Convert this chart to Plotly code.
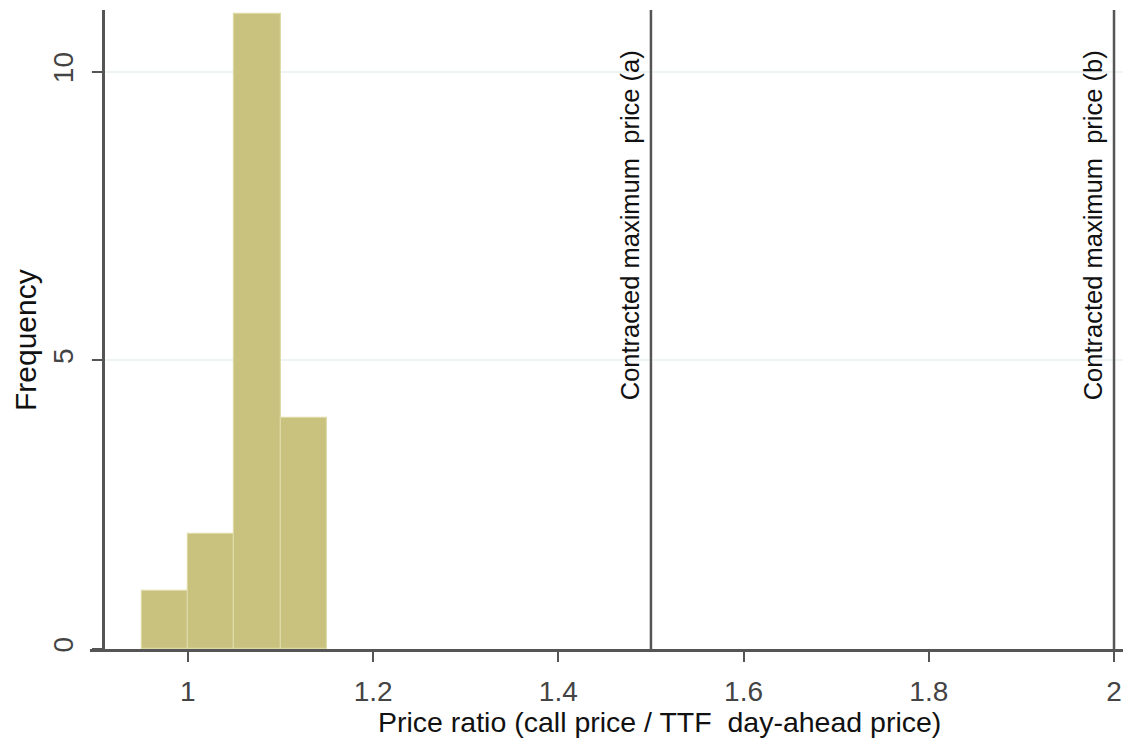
import plotly.graph_objects as go

# Data
bin_left = [0.95, 1.00, 1.05, 1.10]
bin_width = 0.05
counts = [1, 2, 11, 4]
ref_lines = [1.5, 2.0]
ref_labels = ["Contracted maximum  price (a)", "Contracted maximum  price (b)"]
x_ticks = [1, 1.2, 1.4, 1.6, 1.8, 2]
x_ticklabels = ["1", "1.2", "1.4", "1.6", "1.8", "2"]
y_ticks = [0, 5, 10]

FONT = "Liberation Sans, Arial, sans-serif"
W, H = 1123, 749
ML, MR, MT, MB = 90, 0, 10, 100

centers = [l + bin_width / 2 for l in bin_left]

fig = go.Figure()
fig.add_trace(go.Bar(
    x=centers, y=counts, width=[bin_width] * len(counts),
    marker=dict(color="#c8c27e", line=dict(color="#dedaa8", width=1.2)),
    showlegend=False, hoverinfo="skip",
))

for xv in ref_lines:
    fig.add_shape(type="line", xref="x", yref="paper", x0=xv, x1=xv, y0=0, y1=1,
                  line=dict(color="#555555", width=2.5), layer="above")

for xv, lab in zip(ref_lines, ref_labels):
    fig.add_annotation(x=xv, xref="x", y=0.940, yref="paper", text=lab,
                       textangle=-90, xanchor="right", yanchor="top", xshift=-5,
                       showarrow=False, font=dict(family=FONT, size=25.5, color="#111111"))

plot_w = W - ML - MR
fig.add_annotation(x=(659 - ML) / plot_w, xref="paper", y=-(722 - (H - MB)) / (H - MT - MB),
                   yref="paper", text="Price ratio (call price / TTF  day-ahead price)",
                   showarrow=False, xanchor="center", yanchor="middle",
                   font=dict(family=FONT, size=28.5, color="#111111"))
fig.add_annotation(x=-(ML - 25) / plot_w, xref="paper", y=(649 - 340) / (H - MT - MB),
                   yref="paper", text="Frequency", textangle=-90,
                   showarrow=False, xanchor="center", yanchor="middle",
                   font=dict(family=FONT, size=30, color="#111111"))

x_lo = 0.8943
x_hi = 2.0097
yaxis_pos = (0.908 - x_lo) / (x_hi - x_lo)

fig.update_layout(
    width=W, height=H,
    margin=dict(l=ML, r=MR, t=MT, b=MB),
    plot_bgcolor="white", paper_bgcolor="white",
    bargap=0,
    xaxis=dict(range=[x_lo, x_hi], tickvals=x_ticks, ticktext=x_ticklabels,
               showgrid=False, zeroline=False, showline=True, linecolor="#555555",
               linewidth=2.5, ticks="outside", ticklen=10, tickwidth=2, tickcolor="#555555",
               tickfont=dict(family=FONT, size=28, color="#444444"),
               ticklabelstandoff=6),
    yaxis=dict(range=[0, 11.07], tickvals=y_ticks, anchor="free", position=yaxis_pos,
               showgrid=True, gridcolor="#eef4f4", gridwidth=1.5, zeroline=False,
               showline=True, linecolor="#555555", linewidth=2.5,
               ticks="outside", ticklen=10, tickwidth=2, tickcolor="#555555",
               tickangle=-90, tickfont=dict(family=FONT, size=28, color="#444444"),
               ticklabelstandoff=8),
)

fig.write_html("out.html", config={"displayModeBar": False},
               post_script="document.body.style.margin='0';document.body.style.overflow='hidden';")
